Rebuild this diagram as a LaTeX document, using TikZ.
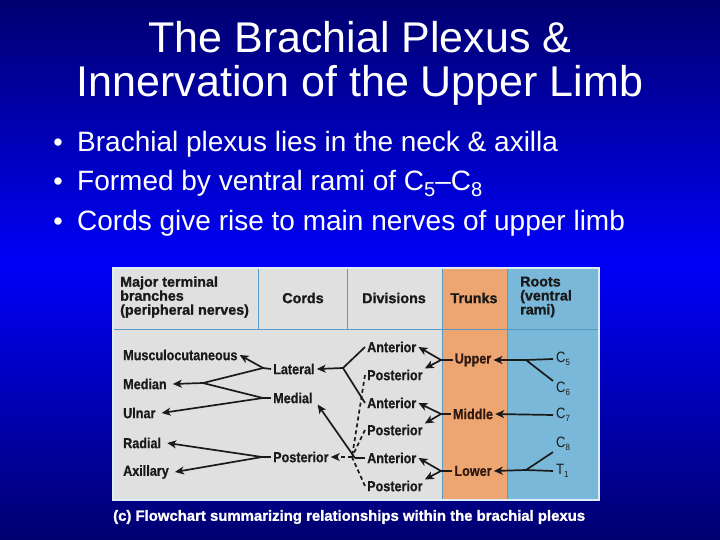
\documentclass[tikz,border=0pt]{standalone}
\usepackage{fontspec}
\setmainfont{Liberation Sans}
\newfontfamily\lblfont[FakeStretch=0.87]{Liberation Sans}
\newfontfamily\lblbold[FakeStretch=0.87,FakeBold=0.6]{Liberation Sans Bold}
\newfontfamily\hdrfont[FakeBold=1.2]{Liberation Sans Bold}
\usetikzlibrary{arrows.meta}
\definecolor{bgdark}{HTML}{000070}
\definecolor{bgbright}{HTML}{0000F8}
\definecolor{panelgray}{HTML}{E0E0E0}
\definecolor{trunkor}{HTML}{EDA671}
\definecolor{rootblue}{HTML}{7AB8DA}
\definecolor{sepblue}{HTML}{5A98C6}
\definecolor{ink}{HTML}{1A1A1A}
\definecolor{trunkink}{HTML}{2E1810}
\newcommand{\sbs}[1]{\raisebox{-0.4ex}{\scalebox{0.72}{#1}}}
\newcommand{\tsb}[1]{\raisebox{-0.4ex}{\scalebox{0.6}{#1}}}
\tikzset{
  lbl/.style={font=\lblbold\fontsize{14.5}{15}\selectfont, text=ink, inner xsep=2pt, inner ysep=1pt, anchor=west},
  hdr/.style={font=\hdrfont\fontsize{14.3}{14}\selectfont, text=ink, inner sep=0pt},
  trk/.style={lbl, text=trunkink, anchor=center},
  rt/.style={font=\lblfont\fontsize{15}{15}\selectfont, text=ink, inner xsep=3pt, inner ysep=1pt, anchor=west},
  wire/.style={draw=ink, line width=1.7pt},
  tip/.style={-{Stealth[length=9pt,width=8pt,inset=2.5pt]}},
  arr/.style={wire, tip},
  dwire/.style={wire, dash pattern=on 4pt off 3pt},
  bullet/.style={font=\fontsize{28}{32}\selectfont, text=white, anchor=base west, inner sep=0pt},
}
\begin{document}
\begin{tikzpicture}[x=1pt,y=-1pt]
\useasboundingbox (0,0) rectangle (720,540);
% background gradient
\shade[top color=bgdark, bottom color=bgbright] (0,0) rectangle (720,265);
\shade[top color=bgbright, bottom color=bgdark] (0,265) rectangle (720,540);

% title
\node[font=\fontsize{43}{44}\selectfont, text=white, anchor=base, inner sep=0pt] (t1) at (360,53) {The Brachial Plexus \&};
\node[font=\fontsize{43}{44}\selectfont, text=white, anchor=base, inner sep=0pt] (t2) at (360,97) {Innervation of the Upper Limb};

% bullets
\foreach \y/\n in {152/b1,191/b2,230/b3}{
  \node[font=\fontsize{27}{32}\selectfont, text=white, anchor=base, inner sep=0pt] (\n dot) at (58,\y) {•};
}
\node[bullet] (b1) at (77,152) {Brachial plexus lies in the neck \& axilla};
\node[bullet] (b2) at (77,191) {Formed by ventral rami of C\sbs{5}–C\sbs{8}};
\node[bullet] (b3) at (77,230) {Cords give rise to main nerves of upper limb};

% panel
\fill[panelgray] (113,268) rectangle (599,500);
\fill[trunkor] (442,268) rectangle (507,500);
\fill[rootblue] (507,268) rectangle (599,500);
\draw[sepblue, line width=1pt] (113,329) -- (599,329);
\draw[sepblue, line width=1pt] (258,268) -- (258,329);
\draw[sepblue, line width=1pt] (347,268) -- (347,329);
\draw[sepblue, line width=0.8pt] (442,268) -- (442,500);
\draw[sepblue, line width=0.8pt] (507,268) -- (507,500);
\draw[color=white!75!rootblue, line width=1.5pt] (113,268) rectangle (599,500);

% headers
\node[hdr, align=left, anchor=west] (hmaj) at (120,297) {Major terminal\\branches\\(peripheral nerves)};
\node[hdr] (hcord) at (303,298) {Cords};
\node[hdr] (hdiv) at (394,298) {Divisions};
\node[hdr] (htrk) at (474,298) {Trunks};
\node[hdr, align=left, anchor=west] (hroot) at (520,297) {Roots\\(ventral\\rami)};

% terminal branches
\node[lbl] (mus) at (121,355) {Musculocutaneous};
\node[lbl] (med) at (121,384) {Median};
\node[lbl] (uln) at (121,413) {Ulnar};
\node[lbl] (rad) at (121,443) {Radial};
\node[lbl] (axi) at (121,472) {Axillary};
% cords
\node[lbl] (lat) at (271,369) {Lateral};
\node[lbl] (mdl) at (271,398) {Medial};
\node[lbl] (pst) at (271,457) {Posterior};
% divisions
\node[lbl] (a1) at (365,347) {Anterior};
\node[lbl] (p1) at (365,375) {Posterior};
\node[lbl] (a2) at (365,403) {Anterior};
\node[lbl] (p2) at (365,430) {Posterior};
\node[lbl] (a3) at (365,458) {Anterior};
\node[lbl] (p3) at (365,486) {Posterior};
% trunks
\node[trk] (up) at (473,360) {Upper};
\node[trk] (mid) at (473,414) {Middle};
\node[trk] (low) at (473,471) {Lower};
% roots
\node[rt] (c5) at (553,359) {C\tsb{5}};
\node[rt] (c6) at (553,389) {C\tsb{6}};
\node[rt] (c7) at (553,415) {C\tsb{7}};
\node[rt] (c8) at (553,444) {C\tsb{8}};
\node[rt] (r1) at (553,471) {T\tsb{1}};

% roots -> trunks
\coordinate (j56) at (526,360);
\draw[wire] (c5.west) -- (j56);
\draw[wire] (c6.north west) -- (j56);
\draw[arr] (j56) -- (up.east);
\draw[arr] (c7.west) -- (mid.east);
\coordinate (j81) at (526,470);
\draw[wire] (c8.south west) -- (j81);
\draw[wire] (r1.west) -- (j81);
\draw[arr] (j81) -- (low.east);

% trunks -> divisions
\coordinate (ju) at (441,360);
\coordinate (jmi) at (441,414);
\coordinate (jlo) at (441,471);
\draw[wire] (up.west) -- (ju);
\draw[wire] (mid.west) -- (jmi);
\draw[wire] (low.west) -- (jlo);
\draw[arr] (ju) -- (a1.east);
\draw[arr] (ju) -- (p1.north east);
\draw[arr] (jmi) -- (a2.east);
\draw[arr] (jmi) -- (p2.north east);
\draw[arr] (jlo) -- (a3.east);
\draw[arr] (jlo) -- (p3.north east);

% divisions -> cords
\coordinate (jl) at (343,368);
\draw[wire] (a1.west) -- (jl);
\draw[wire] (a2.west) -- (jl);
\draw[arr] (jl) -- (lat.east);
\coordinate (jp) at (352,457);
\draw[dwire] (p1.west) -- (jp);
\draw[dwire] (p2.west) -- (jp);
\draw[dwire] (p3.west) -- (jp);
\draw[dwire, tip] (jp) -- (pst.east);
\coordinate (jm) at (355,458);
\draw[wire] (a3.west) -- (jm);
\draw[arr] (jm) -- ([xshift=3pt]mdl.south east);

% cords -> terminal branches
\coordinate (jlat) at (263,368);
\coordinate (jmdl) at (263,398);
\coordinate (jpst) at (262,457);
\coordinate (jmed) at (203,383);
\draw[wire] (lat.west) -- (jlat);
\draw[wire] (mdl.west) -- (jmdl);
\draw[wire] (pst.west) -- (jpst);
\draw[arr] (jlat) -- (mus.east);
\draw[wire] (jlat) -- (jmed);
\draw[wire] (jmdl) -- (jmed);
\draw[arr] (jmed) -- ([xshift=4pt]med.east);
\draw[arr] (jmdl) -- ([xshift=4pt]uln.east);
\draw[arr] (jpst) -- ([xshift=4pt]rad.east);
\draw[arr] (jpst) -- ([xshift=4pt]axi.east);

% caption
\node[font=\hdrfont\fontsize{14.9}{15}\selectfont, text=white, anchor=west, inner sep=0pt] (cap) at (113,517) {(c) Flowchart summarizing relationships within the brachial plexus};
\end{tikzpicture}
\end{document}
